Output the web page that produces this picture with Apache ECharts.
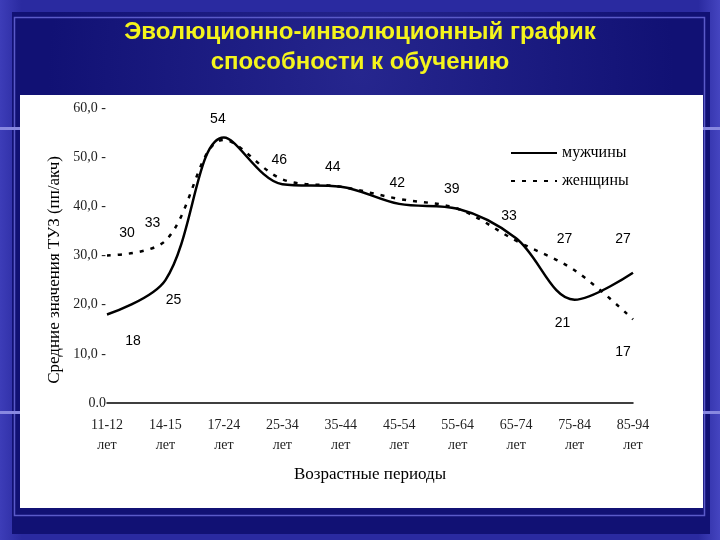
<!DOCTYPE html>
<html>
<head>
<meta charset="utf-8">
<script src="https://cdn.jsdelivr.net/npm/echarts@6/dist/echarts.min.js"></script>
<style>html,body{margin:0;padding:0;background:#15157a;}#c{width:720px;height:540px;}</style>
</head>
<body>
<div id="c"></div>
<script>
// ---- data ----
const categories = ['11-12\nлет','14-15\nлет','17-24\nлет','25-34\nлет','35-44\nлет','45-54\nлет','55-64\nлет','65-74\nлет','75-84\nлет','85-94\nлет'];
const menValues   = [18, 25, 54, 44.5, 44, 40.5, 39.5, 33.5, 21, 26.5];
const womenValues = [30, 33, 53.5, 45.5, 44, 41.5, 39.5, 33, 27, 17];
const menLabels   = ['18','25','54','46','44','42','39','33','21','27'];
const womenLabels = ['30','33','','','','','','','27','17'];
const yTickLabels = ['0.0','10,0 -','20,0 -','30,0 -','40,0 -','50,0 -','60,0 -'];
const seriesNames = ['мужчины','женщины'];
const titleText = 'Эволюционно-инволюционный график\nспособности к обучению';
const yAxisTitle = 'Средние значения ТУЗ (пп/акч)';
const xAxisTitle = 'Возрастные периоды';

// label offsets (style only)
const menOffsets = [[26,27],[8,20],[-6,-18],[-3,-24],[-8,-20],[-2,-21],[-6,-20],[-7,-22],[-12,23],[-10,-34]];
const womenOffsets = [[20,-22],[-13,-18],null,null,null,null,null,null,[-10,-31],[-10,33]];

function buildData(values, labels, offsets){
  return values.map((v,i)=>({
    value: v,
    label: labels[i] ? {show:true, position:'inside', offset: offsets[i], formatter: labels[i], opacity:1, color:'#000'} : {show:false}
  }));
}

const chart = echarts.init(document.getElementById('c'));
const serif = '"Liberation Serif","Times New Roman",serif';
const sans = '"Liberation Sans",Arial,sans-serif';

chart.setOption({
  backgroundColor: '#15157a',
  animation: false,
  title: {
    text: titleText,
    left: 'center', top: 12,
    textStyle: {color:'#f4f41c', fontFamily: sans, fontWeight:'bold', fontSize: 24, lineHeight: 30}
  },
  graphic: [
    {type:'rect', z:-20, shape:{x:0,y:0,width:720,height:540}, style:{fill:new echarts.graphic.LinearGradient(0,0,1,0,[{offset:0,color:'#3d3db8'},{offset:0.03,color:'#2a2aa0'},{offset:0.97,color:'#2a2aa0'},{offset:1,color:'#4545c0'}])}},
    {type:'rect', z:-19, shape:{x:12,y:12,width:698,height:522}, style:{fill:new echarts.graphic.RadialGradient(0.5,0.12,0.6,[{offset:0,color:'#26268e'},{offset:1,color:'#111174'}])}},
    {type:'rect', z:-18, shape:{x:14.5,y:17.5,width:690,height:498}, style:{fill:null, stroke:'#5a5ac8', lineWidth:1.5}},
    {type:'rect', z:-17, shape:{x:0,y:127,width:20,height:3}, style:{fill:'#8888e0'}},
    {type:'rect', z:-17, shape:{x:0,y:411,width:20,height:3}, style:{fill:'#8888e0'}},
    {type:'rect', z:-17, shape:{x:703,y:127,width:17,height:3}, style:{fill:'#8888e0'}},
    {type:'rect', z:-17, shape:{x:703,y:411,width:17,height:3}, style:{fill:'#8888e0'}},
    {type:'rect', z:-16, shape:{x:20,y:95,width:683,height:413}, style:{fill:'#ffffff'}},
    {type:'text', z:5, rotation: Math.PI/2, x:55, y:270, style:{text: yAxisTitle, fill:'#000', font:'17px '+serif, textAlign:'center', textVerticalAlign:'middle'}},
    {type:'text', z:5, x:370, y:475, style:{text: xAxisTitle, fill:'#000', font:'17px '+serif, textAlign:'center', textVerticalAlign:'middle'}}
  ],
  legend: {
    orient:'vertical', left: 505, top: 140, itemGap: 12, itemWidth: 46, itemHeight: 14,
    data: seriesNames,
    textStyle: {fontFamily: serif, fontSize: 16, color:'#000'}
  },
  grid: {left:107, right:87, top:108, bottom:137},
  xAxis: {
    type:'category', data: categories, boundaryGap:false,
    axisLine:{show:true, lineStyle:{color:'#000', width:1.5}},
    axisTick:{show:false},
    axisLabel:{color:'#222', fontFamily: serif, fontSize: 14, lineHeight: 20, margin: 12, interval:0}
  },
  yAxis: {
    type:'value', min:0, max:60, interval:10,
    axisLine:{show:false}, axisTick:{show:false}, splitLine:{show:false},
    axisLabel:{color:'#222', fontFamily: serif, fontSize: 14, margin: 1, formatter:(v)=>yTickLabels[Math.round(v/10)]}
  },
  series: [
    {
      name: seriesNames[0], type:'line', data: buildData(menValues, menLabels, menOffsets),
      smooth: 0.35, symbol:'circle', symbolSize: 1, showSymbol: true,
      itemStyle:{color:'#000', opacity:0},
      lineStyle:{color:'#000', width:2.5},
      label:{color:'#000', fontFamily: sans, fontSize: 14, opacity:1},
      emphasis:{disabled:true}
    },
    {
      name: seriesNames[1], type:'line', data: buildData(womenValues, womenLabels, womenOffsets),
      smooth: 0.35, symbol:'circle', symbolSize: 1, showSymbol: true,
      itemStyle:{color:'#000', opacity:0},
      lineStyle:{color:'#000', width:2.5, type:[4,7]},
      label:{color:'#000', fontFamily: sans, fontSize: 14, opacity:1},
      emphasis:{disabled:true}
    }
  ]
});
</script>
</body>
</html>
